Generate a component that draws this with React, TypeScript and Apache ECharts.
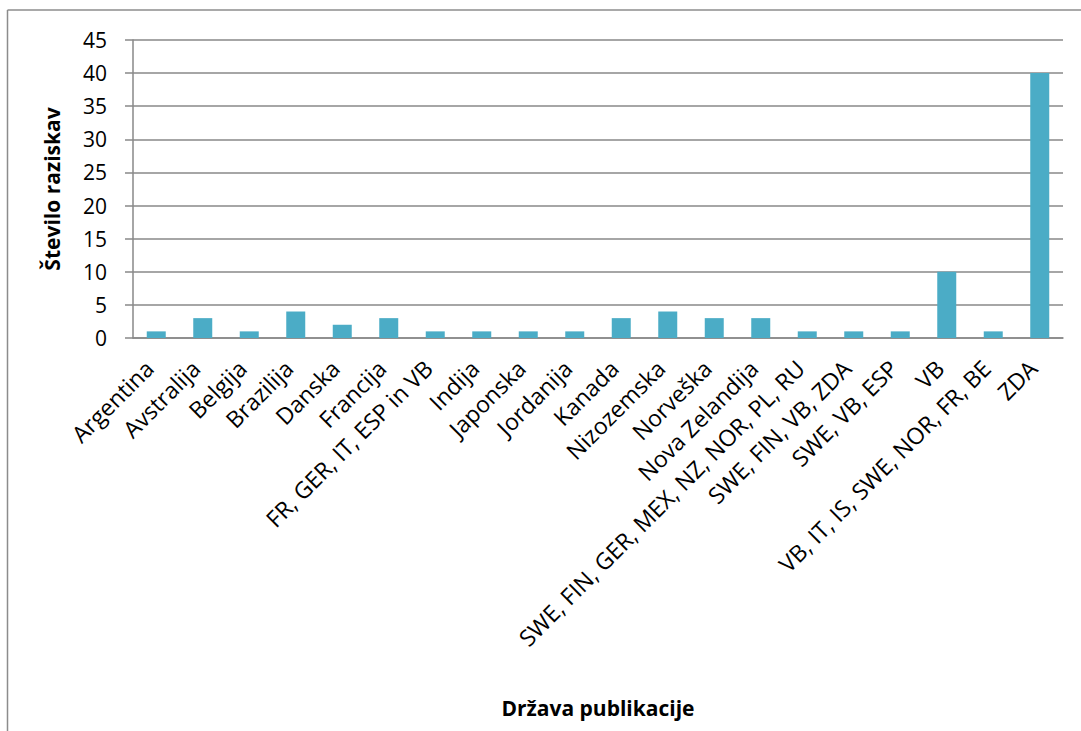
import React, { useEffect, useRef } from "react";
import * as echarts from "echarts";

const categories: string[] = [
  "Argentina",
  "Avstralija",
  "Belgija",
  "Brazilija",
  "Danska",
  "Francija",
  "FR, GER, IT, ESP in VB",
  "Indija",
  "Japonska",
  "Jordanija",
  "Kanada",
  "Nizozemska",
  "Norveška",
  "Nova Zelandija",
  "SWE, FIN, GER, MEX, NZ, NOR, PL, RU",
  "SWE, FIN, VB, ZDA",
  "SWE, VB, ESP",
  "VB",
  "VB, IT, IS, SWE, NOR, FR, BE",
  "ZDA",
];

const values: number[] = [1, 3, 1, 4, 2, 3, 1, 1, 1, 1, 3, 4, 3, 3, 1, 1, 1, 10, 1, 40];

const yAxisTitle = "Število raziskav";
const xAxisTitle = "Država publikacije";

const FONT = "'Open Sans', 'DejaVu Sans', sans-serif";

export default function App() {
  const ref = useRef<HTMLDivElement>(null);
  useEffect(() => {
    if (!ref.current) return;
    const chart = echarts.init(ref.current, undefined, { renderer: "svg" });
    chart.setOption({
      animation: false,
      backgroundColor: "#ffffff",
      textStyle: { fontFamily: FONT },
      grid: { left: 133, right: 18, top: 40, bottom: 393, containLabel: false },
      graphic: [
        {
          type: "line",
          shape: { x1: 7.5, y1: 10, x2: 1081, y2: 10 },
          style: { stroke: "#8c8c8c", lineWidth: 1.5 },
        },
        {
          type: "line",
          shape: { x1: 7.5, y1: 10, x2: 7.5, y2: 731 },
          style: { stroke: "#8c8c8c", lineWidth: 1.5 },
        },
      ],
      xAxis: {
        type: "category",
        data: categories,
        name: xAxisTitle,
        nameLocation: "middle",
        nameGap: 359,
        nameTextStyle: { fontFamily: FONT, fontWeight: "bold", fontSize: 21, color: "#000" },
        axisLine: { lineStyle: { color: "#888", width: 1.5 } },
        axisTick: { show: false },
        axisLabel: {
          interval: 0,
          rotate: 45,
          margin: 19,
          padding: [0, 10, 0, 0],
          fontFamily: FONT,
          fontSize: 23,
          color: "#000",
        },
      },
      yAxis: {
        type: "value",
        min: 0,
        max: 45,
        interval: 5,
        name: yAxisTitle,
        nameLocation: "middle",
        nameGap: 71,
        nameRotate: 90,
        nameTextStyle: { fontFamily: FONT, fontWeight: "bold", fontSize: 21, color: "#000" },
        axisLine: { show: true, lineStyle: { color: "#888", width: 1.5 } },
        axisTick: { show: true, length: 8, lineStyle: { color: "#888", width: 1.5 } },
        axisLabel: { margin: 26, fontFamily: FONT, fontSize: 21, color: "#000" },
        splitLine: { show: true, lineStyle: { color: "#888", width: 1.5 } },
      },
      series: [
        {
          type: "bar",
          data: values,
          barWidth: 19,
          itemStyle: { color: "#4bacc6" },
        },
      ],
    });
    return () => chart.dispose();
  }, []);
  return (
    <div
      ref={ref}
      style={{ position: "fixed", left: 0, top: 0, width: 1081, height: 731, background: "#fff" }}
    />
  );
}
